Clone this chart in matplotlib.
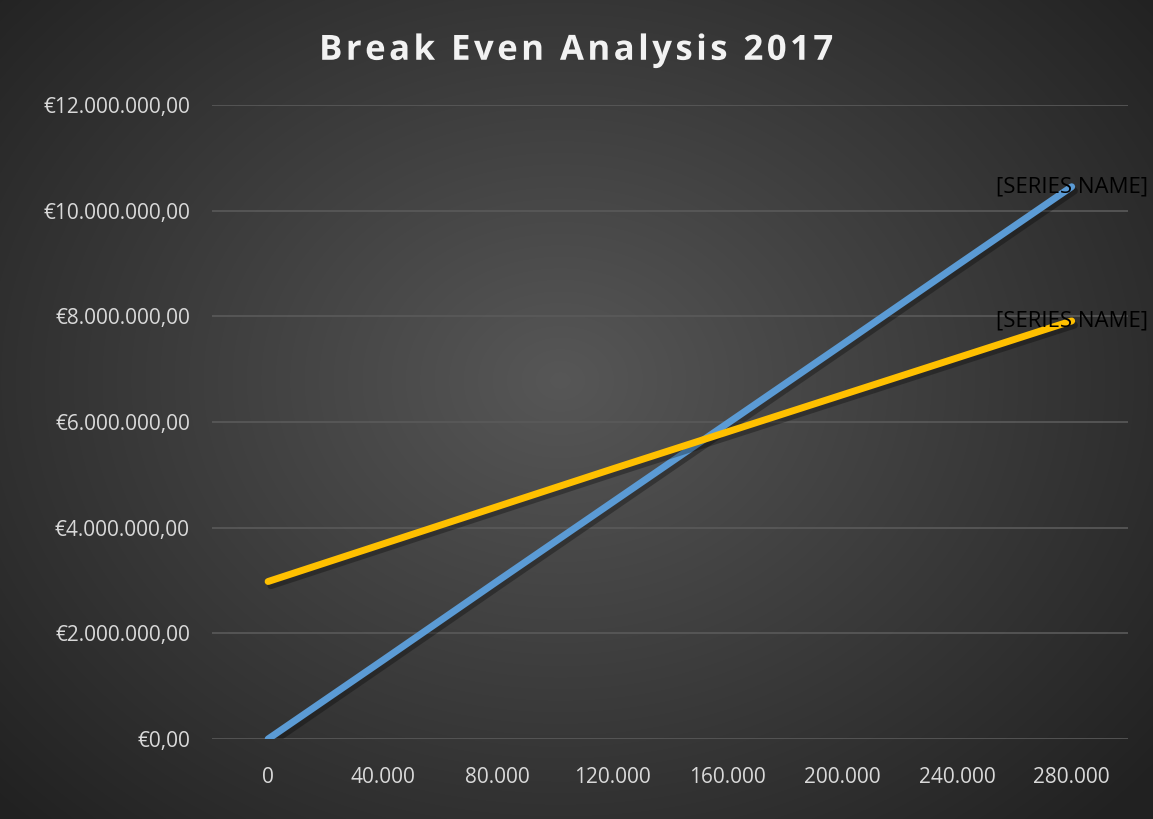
import numpy as np
import matplotlib.pyplot as plt
import matplotlib.patheffects as pe
from matplotlib.ticker import FuncFormatter

# units sold
units = [0, 40000, 80000, 120000, 160000, 200000, 240000, 280000]
# revenue (blue) and total cost (yellow), in euro
revenue = [0, 1490000, 2990000, 4480000, 5970000, 7460000, 8960000, 10450000]
total_cost = [2980000, 3690000, 4400000, 5110000, 5810000, 6510000, 7210000, 7910000]
series_label = "[SERIES NAME]"
title = "Break Even Analysis 2017"


def euro(v, pos=None):
    s = f"{v:,.2f}"
    s = s.replace(",", "X").replace(".", ",").replace("X", ".")
    return "€" + s


def thousands(v, pos=None):
    return f"{v:,.0f}".replace(",", ".")


plt.rcParams['font.family'] = ['Open Sans', 'DejaVu Sans']

fig = plt.figure(figsize=(11.53, 8.19), dpi=100)

# radial gradient background
bg = fig.add_axes([0, 0, 1, 1], zorder=-10)
yy, xx = np.mgrid[0:819, 0:1153]
r = np.sqrt(((xx - 560) / 700.0) ** 2 + ((yy - 380) / 560.0) ** 2)
shade = np.clip(0.34 - 0.19 * r, 0.13, 0.34)
bg.imshow(np.dstack([shade, shade, shade]), aspect='auto', extent=[0, 1, 0, 1])
bg.set_axis_off()

ax = fig.add_axes([0.184, 0.0977, 0.794, 0.7743])
ax.patch.set_alpha(0)

shadow = [pe.SimpleLineShadow(offset=(2, -3), shadow_color='black', alpha=0.3), pe.Normal()]
ax.plot(units, revenue, color='#5B9BD5', lw=5, solid_capstyle='round', path_effects=shadow, zorder=3)
ax.plot(units, total_cost, color='#FFC000', lw=5, solid_capstyle='round', path_effects=shadow, zorder=3)

for ys in (revenue, total_cost):
    ax.text(units[-1], ys[-1], series_label, ha='center', va='center',
            fontsize=16, color='black', zorder=4)

ax.set_xlim(-19500, 299500)
ax.set_ylim(0, 12000000)
ax.set_xticks(units)
ax.set_yticks(np.arange(0, 12000001, 2000000))
ax.xaxis.set_major_formatter(FuncFormatter(thousands))
ax.yaxis.set_major_formatter(FuncFormatter(euro))
ax.tick_params(axis='x', length=0, pad=20, labelsize=15, labelcolor='#d9d9d9')
ax.tick_params(axis='y', length=0, pad=16, labelsize=15, labelcolor='#d9d9d9')
ax.grid(axis='y', color='#5a5a5a', lw=1.2)
ax.set_axisbelow(True)
for s in ax.spines.values():
    s.set_visible(False)

# letter-spaced title
spaced = "\u200a".join(title)
fig.text(0.5, 0.938, spaced, ha='center', va='center', fontsize=25, fontweight='bold',
         color='#f2f2f2',
         path_effects=[pe.SimpleLineShadow(offset=(1.5, -2.5), alpha=0.5), pe.Normal()])

fig.savefig('out.png', dpi=100)
